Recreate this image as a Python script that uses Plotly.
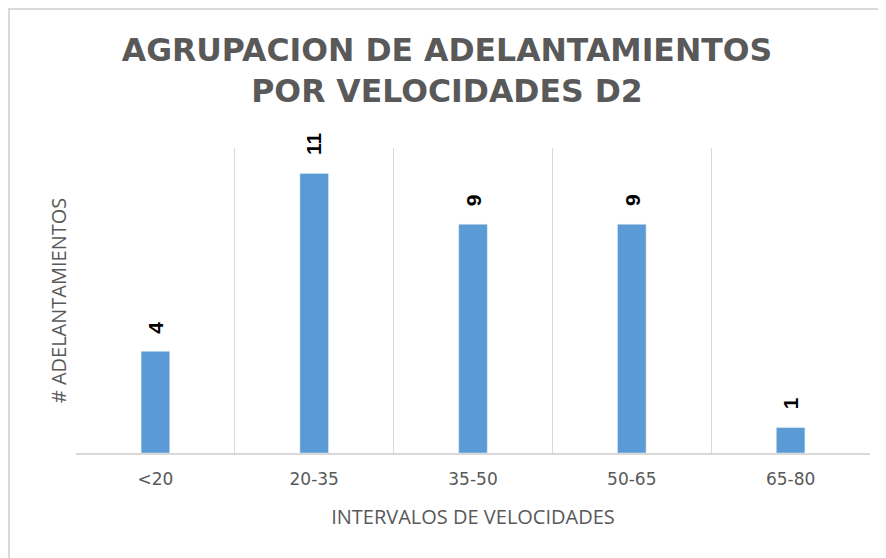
import plotly.graph_objects as go

# data
intervalos = ["<20", "20-35", "35-50", "50-65", "65-80"]
adelantamientos = [4, 11, 9, 9, 1]

title_text = "AGRUPACION DE ADELANTAMIENTOS<br>POR VELOCIDADES D2"
x_title = "INTERVALOS DE VELOCIDADES"
y_title = "# ADELANTAMIENTOS"

gray_text = "#595959"
grid_color = "#d9d9d9"
bar_color = "#5b9bd5"

fig = go.Figure()

fig.add_trace(
    go.Bar(
        x=intervalos,
        y=adelantamientos,
        width=0.18,
        marker=dict(color=bar_color),
        hoverinfo="x+y",
    )
)

# value labels, rotated, sitting a bit above each bar
for cat, val in zip(intervalos, adelantamientos):
    fig.add_annotation(
        x=cat,
        y=val,
        text=str(val),
        showarrow=False,
        textangle=-90,
        yanchor="bottom",
        yshift=16,
        font=dict(family="Liberation Sans, Arial", size=21, color="black", weight="bold"),
    )

# light grey frame around the whole chart area (like the Excel chart border)
fig.add_shape(
    type="rect",
    xref="paper", yref="paper",
    x0=-0.0844, x1=1.05, y0=-0.6, y1=1.456,
    line=dict(color=grid_color, width=2),
    fillcolor="rgba(0,0,0,0)",
    layer="below",
)

fig.update_layout(
    width=878,
    height=550,
    plot_bgcolor="white",
    paper_bgcolor="white",
    showlegend=False,
    margin=dict(l=68, r=16, t=140, b=105),
    title=dict(
        text=title_text,
        x=0.5,
        xanchor="center",
        y=0.903,
        yanchor="top",
        font=dict(family="DejaVu Sans", size=31.5, color=gray_text, weight="bold"),
    ),
    xaxis=dict(
        range=[-0.5, 4.5],
        tickson="boundaries",
        showgrid=True,
        gridcolor=grid_color,
        gridwidth=1,
        showline=True,
        linecolor=grid_color,
        linewidth=2,
        ticks="",
        ticklabelstandoff=10,
        tickfont=dict(family="DejaVu Sans", size=17, color=gray_text),
        title=dict(
            text=x_title,
            standoff=22,
            font=dict(family="Open Sans", size=20, color=gray_text),
        ),
    ),
    yaxis=dict(
        range=[0, 12],
        showgrid=False,
        zeroline=False,
        showticklabels=False,
        ticks="",
        title=dict(
            text=y_title,
            standoff=3,
            font=dict(family="Open Sans", size=20, color=gray_text),
        ),
    ),
)

fig.write_html("out.html")
